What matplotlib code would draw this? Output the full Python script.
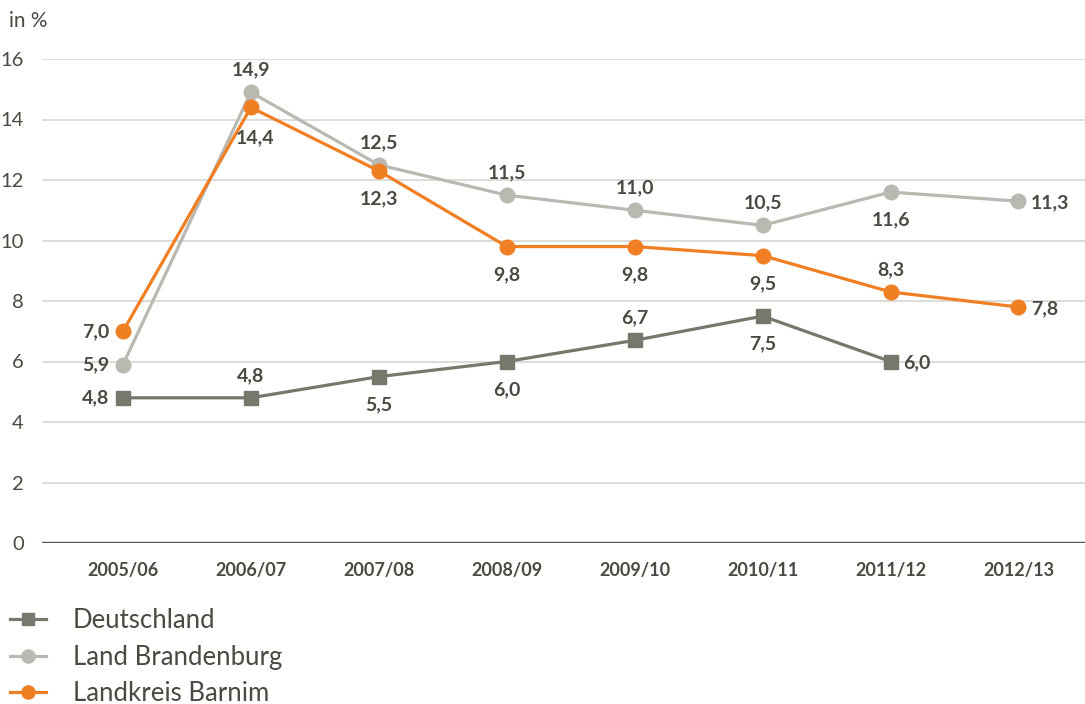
import matplotlib
matplotlib.use("Agg")
import matplotlib.pyplot as plt
import numpy as np

categories = ["2005/06", "2006/07", "2007/08", "2008/09", "2009/10", "2010/11", "2011/12", "2012/13"]
deutschland = [4.8, 4.8, 5.5, 6.0, 6.7, 7.5, 6.0]
brandenburg = [5.9, 14.9, 12.5, 11.5, 11.0, 10.5, 11.6, 11.3]
barnim = [7.0, 14.4, 12.3, 9.8, 9.8, 9.5, 8.3, 7.8]
series_names = ["Deutschland", "Land Brandenburg", "Landkreis Barnim"]
yticks = [0, 2, 4, 6, 8, 10, 12, 14, 16]

# label placement: L=left, R=right, A=above, B=below, D=further below
pos_de = ["L", "A", "B", "B", "A", "B", "R"]
pos_bb = ["L", "A", "A", "A", "A", "A", "B", "R"]
pos_ba = ["L", "D", "B", "B", "B", "B", "A", "R"]

plt.rcParams['font.family'] = ['Lato', 'DejaVu Sans']
TXT = "#4a4a42"
C_DE = "#77776c"
C_BB = "#b9b9b1"
C_BA = "#f07e22"

fig = plt.figure(figsize=(10.85, 7.04), dpi=100)
ax = fig.add_axes([42/1085, (704-543)/704, 1 - 42/1085, (543-59)/704])
ax.set_xlim(-0.633, 7.52)
ax.set_ylim(0, 16)

for y in yticks[1:]:
    ax.axhline(y, color="#d9d9d4", lw=1.3, zorder=0)
ax.axhline(0, color="#5a5a52", lw=2.5, zorder=1)
for s in ax.spines.values():
    s.set_visible(False)
ax.set_yticks(yticks)
ax.set_yticklabels([str(v) for v in yticks], fontsize=14.5, color=TXT)
ax.tick_params(axis='y', length=0, pad=13)
ax.set_xticks(range(len(categories)))
ax.set_xticklabels(categories, fontsize=13, fontweight='bold', color=TXT)
ax.tick_params(axis='x', length=0, pad=14)

def fmt(v):
    return f"{v:.1f}".replace(".", ",")

def draw(vals, color, marker, ms, pos, name):
    x = np.arange(len(vals))
    ax.plot(x, vals, color=color, lw=2.3, marker=marker, ms=ms, label=name, zorder=3)
    for xi, v, p in zip(x, vals, pos):
        if p == "L":
            off, ha, va = (-10, 0), "right", "center"
        elif p == "R":
            off, ha, va = (9, -1), "left", "center"
        elif p == "A":
            off, ha, va = (0, 16), "center", "center"
        elif p == "D":
            off, ha, va = (3, -22), "center", "center"
        else:
            off, ha, va = (0, -20), "center", "center"
        ax.annotate(fmt(v), (xi, v), xytext=off, textcoords="offset points",
                    ha=ha, va=va, fontsize=14, fontweight='bold', color=TXT, zorder=4)

draw(deutschland, C_DE, "s", 10, pos_de, series_names[0])
draw(brandenburg, C_BB, "o", 10.5, pos_bb, series_names[1])
draw(barnim, C_BA, "o", 10.5, pos_ba, series_names[2])

fig.text(9/1085, 1 - 21/704, "in %", fontsize=15, color=TXT, va="center", ha="left")

handles, labels = ax.get_legend_handles_labels()
leg = fig.legend(handles, labels, loc="upper left", bbox_to_anchor=(10/1085, 1 - 608/704),
                 frameon=False, fontsize=18.5, handlelength=1.4, handletextpad=1.05,
                 labelspacing=0.45, markerscale=0.9, borderpad=0, borderaxespad=0)
for t in leg.get_texts():
    t.set_color(TXT)

fig.savefig("out.png", dpi=100)
